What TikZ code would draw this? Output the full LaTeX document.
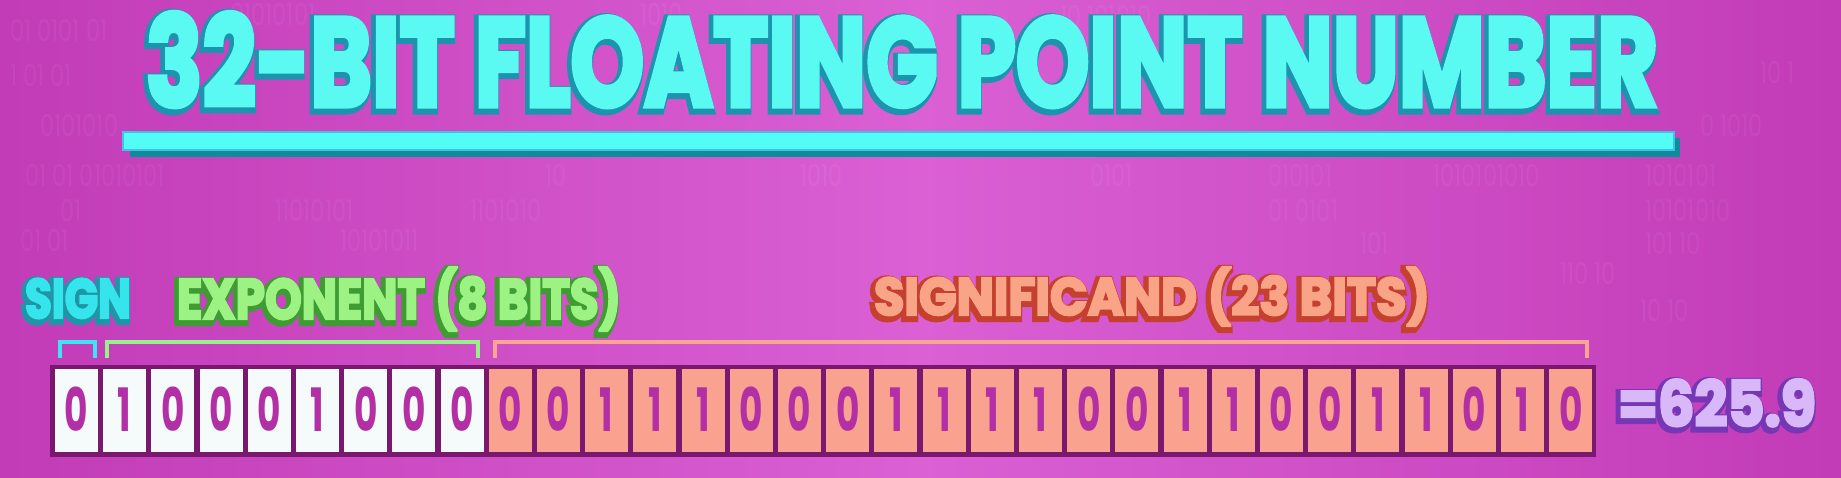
\documentclass[tikz,border=0pt]{standalone}
\usepackage{fontspec}
\usetikzlibrary{positioning}
\newfontfamily\popfont{Poppins}

\definecolor{bgside}{HTML}{C23BB7}
\definecolor{bgmid}{HTML}{DA60D4}
\definecolor{barfill}{HTML}{52FDF6}
\definecolor{baredge}{HTML}{44BFE6}
\definecolor{barshadow}{HTML}{0F8B9B}
\definecolor{framepurple}{HTML}{7A176F}
\definecolor{cellwhite}{HTML}{F5FBFB}
\definecolor{cellsalmon}{HTML}{F8A28F}
\definecolor{bitpink}{HTML}{B22FA6}
\definecolor{signbr}{HTML}{3FE3F3}
\definecolor{expbr}{HTML}{98F08A}
\definecolor{sigbr}{HTML}{F8A593}

% couleurs du texte (rgb pour pdf)
\def\titlecyan{0.353 0.976 0.945}
\def\titleshadow{0.110 0.580 0.680}
\def\signfill{0.212 0.894 0.925}
\def\signedge{0.118 0.588 0.659}
\def\expfill{0.612 0.949 0.514}
\def\expedge{0.243 0.612 0.196}
\def\sigfill{0.976 0.639 0.529}
\def\sigedge{0.773 0.251 0.180}
\def\valfill{0.851 0.722 0.976}
\def\valedge{0.463 0.216 0.710}

% text squeezed into a w x h box (cap height), #3 = pdf render state
\newcommand{\fitbox}[4]{\pgfmathsetmacro\fsz{1.43*#2}%
  \resizebox{#1pt}{#2pt}{\fontsize{\fsz pt}{\fsz pt}\popfont\bfseries\vphantom{X}%
  \smash{\special{pdf:literal direct #3}#4\special{pdf:literal direct 0 Tr}}}}
\newcommand{\bitdigit}[1]{\resizebox{!}{42pt}{\scalebox{0.6}[1]{\popfont\bfseries\vphantom{X}\smash{#1}}}}
% name, x, y (baseline), w, h, fill, edge, text
\newcommand{\glowtext}[8]{%
  \pgfmathsetmacro\lwfill{0.06*#5}\pgfmathsetmacro\lwedge{0.06*#5+7}%
  \node[fxtext] at ([shift={(-2,2.5)}]#2,#3) {\fitbox{#4}{#5}{2 Tr \lwedge\space w #7 RG #7 rg}{#8}};
  \node[fxtext] (#1) at (#2,#3) {\fitbox{#4}{#5}{2 Tr \lwfill\space w #6 RG #6 rg}{#8}};
}

\tikzset{
  fxtext/.style={anchor=south west, inner sep=0pt, outer sep=0pt},
  bitcell/.style={minimum width=43pt, minimum height=83pt, inner sep=0pt, text=bitpink},
  bgbits/.style={anchor=west, inner sep=0pt, text=white, opacity=0.05,
    font=\popfont\fontsize{30}{30}\selectfont},
  brace/.style={line width=4pt}
}

\begin{document}
\begin{tikzpicture}[x=1pt,y=-1pt]
% fond
\shade[left color=bgside,right color=bgside,middle color=bgmid] (0,0) rectangle (1841,477);
\useasboundingbox (0,0) rectangle (1841,477);
\foreach \x/\y/\t in {230/14/01010101, 640/14/1010, 1060/16/10 101010, 10/30/01 0101 01,
  10/75/1  01  01, 1760/72/10 1, 40/125/0101010, 1700/125/0 1010,
  25/175/01  01  01010101, 545/175/10, 800/175/1010, 1090/175/0101, 1268/175/010101,
  1433/175/1010101010, 1645/175/1010101, 60/210/01, 275/210/11010101, 470/210/1101010,
  1268/210/01  0101, 1645/210/10101010, 20/240/01  01, 340/240/10101011,
  1360/243/101, 1645/243/101  10, 1560/273/110  10, 1640/310/10 10, 1700/420/10101}
  \node[bgbits] at (\x,\y) {\scalebox{0.75}[1]{\t}};

% titre
\glowtext{title}{146}{106}{1512}{88}{\titlecyan}{\titleshadow}{32-BIT FLOATING POINT NUMBER}
\fill[barshadow] (130,138) rectangle (1680,157);
\draw[fill=barfill, draw=baredge, line width=1.5pt] (123,132) rectangle (1674,150);

% etiquettes
\glowtext{sign}{25}{318}{106}{39}{\signfill}{\signedge}{SIGN}
\glowtext{exponent}{177}{319}{444}{40}{\expfill}{\expedge}{EXPONENT (8 BITS)}
\glowtext{significand}{874}{315}{556}{37}{\sigfill}{\sigedge}{SIGNIFICAND (23 BITS)}
\glowtext{value}{1618}{426}{198}{44}{\valfill}{\valedge}{=625.9}

% registre 32 bits
\def\pitch{48.2}
\fill[framepurple] (50,365) rectangle (1596,457);
\foreach \b [count=\i from 0] in {0,1,0,0,0,1,0,0,0,0,0,1,1,1,0,0,0,1,1,1,1,0,0,1,1,0,0,1,1,0,1,0}{
  \ifnum\i<9 \def\cellcol{cellwhite}\else\def\cellcol{cellsalmon}\fi
  \node[bitcell,fill=\cellcol] (b\i) at (76.5+\i*\pitch,410.5) {\bitdigit{\b}};
}

% accolades
\draw[brace,signbr] ([shift={(5,-11)}]b0.north west) -- ++(0,-16) -| ([shift={(-3,-11)}]b0.north east);
\draw[brace,expbr] ([shift={(4,-11)}]b1.north west) -- ++(0,-16) -| ([shift={(-6,-11)}]b8.north east);
\draw[brace,sigbr] ([shift={(6,-11)}]b9.north west) -- ++(0,-16) -| ([shift={(-5,-11)}]b31.north east);
\end{tikzpicture}
\end{document}
